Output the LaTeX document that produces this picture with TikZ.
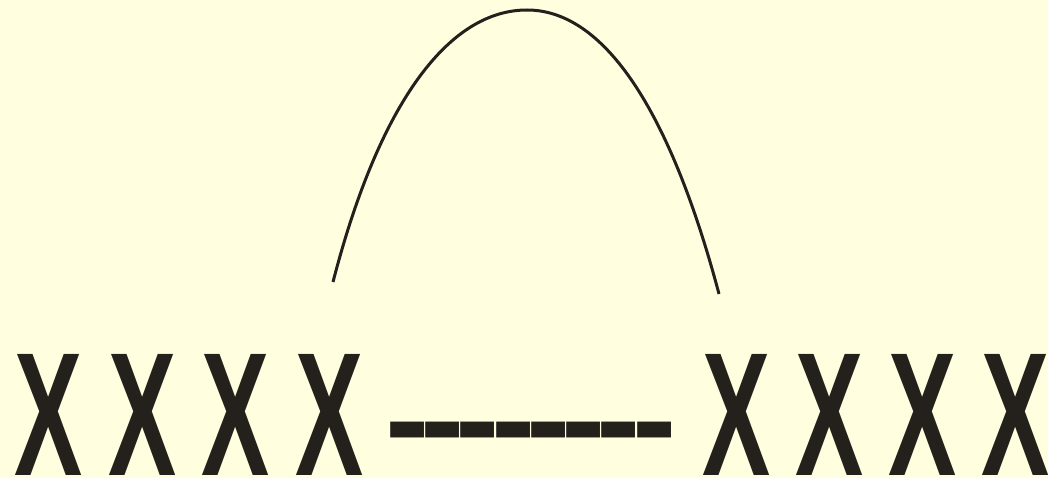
\documentclass[tikz,border=0pt]{standalone}
\usepackage{fontspec}
\usepackage{graphicx}
\newfontfamily\xfont{Liberation Sans}[BoldFont={Liberation Sans Bold}]
\definecolor{bg}{HTML}{FFFFE0}
\definecolor{ink}{HTML}{24211C}
\newcommand\dsh{\hbox{-}\kern-9pt}
\begin{document}
\begin{tikzpicture}[x=1pt,y=-1pt,
  xletter/.style={inner sep=0pt,anchor=base,text=ink,font=\xfont\bfseries\fontsize{176}{176}\selectfont},
  dashrow/.style={inner sep=0pt,anchor=base west,text=ink,font=\xfont\bfseries\fontsize{133}{133}\selectfont},
  arc/.style={draw=ink,line width=3pt}]
\fill[bg] (0,0) rectangle (1048,478);
\useasboundingbox (0,0) rectangle (1048,478);
\node[xletter] (x1) at (49,475) {\scalebox{0.58}[1]{X}};
\node[xletter] (x2) at (142.5,475) {\scalebox{0.58}[1]{X}};
\node[xletter] (x3) at (236,475) {\scalebox{0.58}[1]{X}};
\node[xletter] (x4) at (330,475) {\scalebox{0.58}[1]{X}};
\node[xletter] (x5) at (737,475) {\scalebox{0.58}[1]{X}};
\node[xletter] (x6) at (830,475) {\scalebox{0.58}[1]{X}};
\node[xletter] (x7) at (923,475) {\scalebox{0.58}[1]{X}};
\node[xletter] (x8) at (1016,475) {\scalebox{0.58}[1]{X}};
\node[dashrow] (d) at (385,464) {\dsh\dsh\dsh\dsh\dsh\dsh\dsh\dsh};
\coordinate (a0) at (333,282);
\coordinate (atop) at (527,10);
\coordinate (a1) at (719,294);
\draw[arc] (a0) .. controls (380,100) and (450,10) .. (atop)
  .. controls (604,10) and (670,110) .. (a1);
\end{tikzpicture}
\end{document}
